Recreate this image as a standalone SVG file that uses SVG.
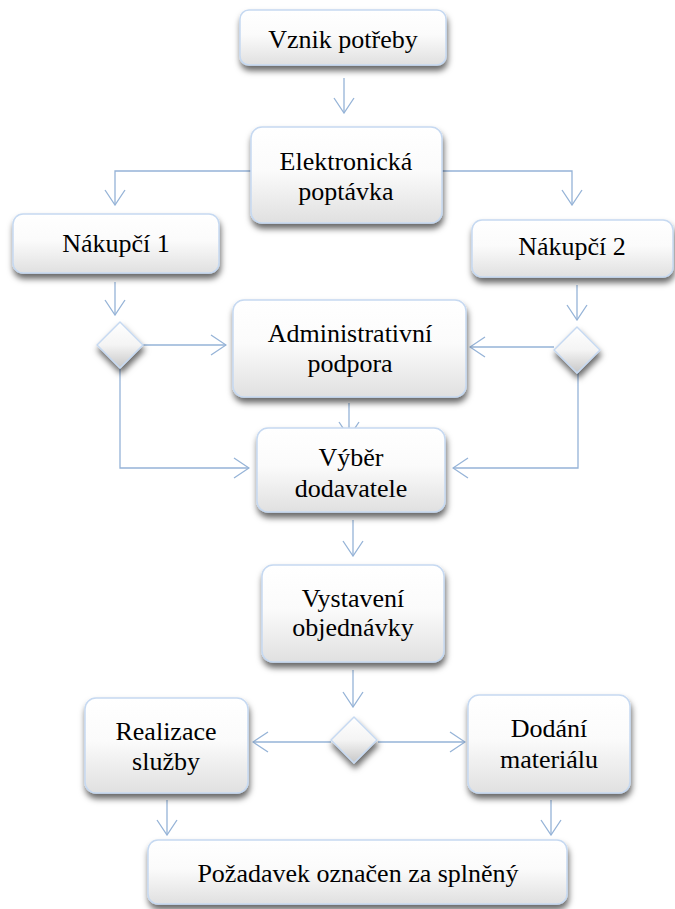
<svg xmlns="http://www.w3.org/2000/svg" width="675" height="909" viewBox="0 0 675 909">
  <defs>
    <linearGradient id="boxFill" x1="0" y1="0" x2="0" y2="1">
      <stop offset="0" stop-color="#ffffff"/>
      <stop offset="0.45" stop-color="#fbfbfb"/>
      <stop offset="1" stop-color="#e0e0e0"/>
    </linearGradient>
    <linearGradient id="diaFill" x1="0" y1="0" x2="0" y2="1">
      <stop offset="0" stop-color="#ffffff"/>
      <stop offset="0.5" stop-color="#f4f4f4"/>
      <stop offset="1" stop-color="#c8c8c8"/>
    </linearGradient>
    <filter id="shadow" x="-20%" y="-20%" width="140%" height="150%">
      <feDropShadow dx="1" dy="5" stdDeviation="3" flood-color="#000" flood-opacity="0.6"/>
    </filter>
    <marker id="arrow" viewBox="-17 -11 18 22" markerWidth="18" markerHeight="22" refX="0" refY="0" orient="auto" markerUnits="userSpaceOnUse">
      <path d="M-15,-10 L0,0 L-15,10" fill="none" stroke="#95b3d7" stroke-width="1.3"/>
    </marker>
    <style>
      .box { fill: url(#boxFill); stroke: #c6d9f1; stroke-width: 1.5; filter: url(#shadow); }
      .dia { fill: url(#diaFill); stroke: #c6d9f1; stroke-width: 1.5; stroke-linejoin: round; filter: url(#shadow); }
      .lbl { font-size: 26px; fill: #000; text-anchor: middle; }
      .conn path { fill: none; stroke: #95b3d7; stroke-width: 1.3; marker-end: url(#arrow); }
    </style>
  </defs>

  <rect width="675" height="909" fill="#ffffff"/>

  <!-- connectors -->
  <g id="connectors" class="conn">
    <path d="M344,78 V113"/>
    <path d="M251,171 H115 V205"/>
    <path d="M442,171 H572 V205"/>
    <path d="M115,282 V315"/>
    <path d="M143,345 H226"/>
    <path d="M120,368 V468 H249"/>
    <path d="M577,285 V320"/>
    <path d="M554,347 H470"/>
    <path d="M578,373 V468 H453"/>
    <path d="M349,403 V437"/>
    <path d="M353,520 V556"/>
    <path d="M353,670 V707"/>
    <path d="M331,742 H253"/>
    <path d="M378,742 H465"/>
    <path d="M167,800 V835"/>
    <path d="M551,800 V835"/>
  </g>

  <g font-family="Liberation Serif, serif">
  <g id="vznik">
    <rect class="box" x="240" y="10" width="206" height="55" rx="9"/>
    <text class="lbl" x="343" y="48">Vznik potřeby</text>
  </g>

  <g id="poptavka">
    <rect class="box" x="251" y="127" width="191" height="96" rx="11"/>
    <text class="lbl" x="346" y="170">Elektronická</text>
    <text class="lbl" x="346" y="200">poptávka</text>
  </g>

  <g id="nakupci1">
    <rect class="box" x="13" y="214" width="206" height="59" rx="10"/>
    <text class="lbl" x="116" y="252">Nákupčí 1</text>
  </g>

  <g id="nakupci2">
    <rect class="box" x="472" y="220" width="201" height="57" rx="10"/>
    <text class="lbl" x="572" y="255">Nákupčí 2</text>
  </g>

  <g id="rozhodnuti1">
    <path class="dia" d="M120,322 L143,345 L120,368 L97,345 Z"/>
  </g>

  <g id="rozhodnuti2">
    <path class="dia" d="M577,327 L600,350 L577,373 L554,350 Z"/>
  </g>

  <g id="administrativa">
    <rect class="box" x="233" y="300" width="233" height="97" rx="11"/>
    <text class="lbl" x="350" y="342">Administrativní</text>
    <text class="lbl" x="350" y="372">podpora</text>
  </g>

  <g id="vyber">
    <rect class="box" x="257" y="428" width="188" height="84" rx="11"/>
    <text class="lbl" x="351" y="466">Výběr</text>
    <text class="lbl" x="351" y="497">dodavatele</text>
  </g>

  <g id="objednavka">
    <rect class="box" x="262" y="565" width="182" height="97" rx="11"/>
    <text class="lbl" x="353" y="607">Vystavení</text>
    <text class="lbl" x="353" y="636">objednávky</text>
  </g>

  <g id="rozhodnuti3">
    <path class="dia" d="M354,717 L377,740 L354,763 L331,740 Z"/>
  </g>

  <g id="realizace">
    <rect class="box" x="85" y="698" width="163" height="95" rx="11"/>
    <text class="lbl" x="166" y="740">Realizace</text>
    <text class="lbl" x="166" y="770">služby</text>
  </g>

  <g id="dodani">
    <rect class="box" x="468" y="695" width="162" height="98" rx="11"/>
    <text class="lbl" x="549" y="737">Dodání</text>
    <text class="lbl" x="549" y="768">materiálu</text>
  </g>

  <g id="splneno">
    <rect class="box" x="148" y="840" width="419" height="64" rx="10"/>
    <text class="lbl" x="358" y="882">Požadavek označen za splněný</text>
  </g>
  </g>
</svg>
